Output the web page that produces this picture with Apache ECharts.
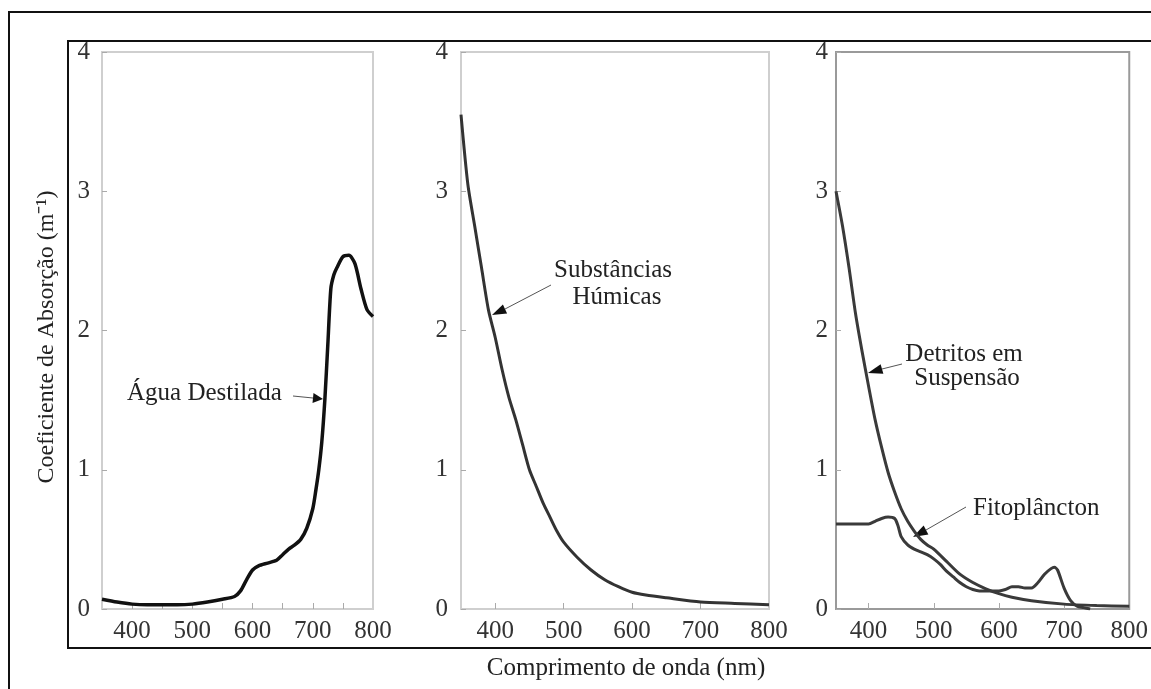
<!DOCTYPE html>
<html><head><meta charset="utf-8">
<script src="https://cdn.jsdelivr.net/npm/echarts@6/dist/echarts.min.js"></script>
<style>html,body{margin:0;padding:0;background:#fff}#c{width:1151px;height:689px}</style>
</head><body><div id="c"></div>
<script>
// ---- data ----
const yTickValues = [0, 1, 2, 3, 4];
const xLabelValues = [400, 500, 600, 700, 800];
const xTicksPanel1 = [400, 450, 500, 550, 600, 650, 700, 750];
const xTicksPanel23 = [400, 500, 600, 700];

const wlAgua = [350,375,400,425,450,475,500,525,550,570,580,590,600,610,625,640,650,660,670,680,690,700,705,710,715,720,725,730,735,740,750,760,770,780,790,800];
const absAgua = [0.07,0.05,0.035,0.03,0.03,0.03,0.035,0.05,0.07,0.09,0.13,0.21,0.28,0.31,0.33,0.35,0.39,0.43,0.46,0.50,0.58,0.72,0.85,1.0,1.2,1.5,1.9,2.3,2.4,2.45,2.53,2.54,2.48,2.3,2.15,2.1];

const wlHumicas = [350,360,370,380,390,400,410,420,430,440,450,460,470,480,490,500,520,540,560,580,600,620,650,700,750,800];
const absHumicas = [3.55,3.05,2.75,2.45,2.15,1.95,1.72,1.52,1.36,1.18,1.0,0.88,0.76,0.66,0.56,0.48,0.37,0.28,0.21,0.16,0.12,0.10,0.08,0.05,0.04,0.03];

const wlDetritos = [350,360,370,380,390,400,410,420,430,440,450,460,470,480,490,500,520,540,560,580,600,620,650,700,750,800];
const absDetritos = [3.0,2.75,2.45,2.12,1.85,1.6,1.36,1.16,0.98,0.84,0.72,0.63,0.56,0.5,0.46,0.43,0.34,0.25,0.19,0.145,0.11,0.085,0.06,0.035,0.025,0.02];

const wlFito = [350,370,390,400,410,420,430,440,445,450,460,470,480,490,500,510,520,530,540,550,560,570,580,590,600,610,620,630,640,650,660,670,680,685,690,700,710,720,730,740];
const absFito = [0.61,0.61,0.61,0.61,0.63,0.65,0.66,0.65,0.6,0.52,0.46,0.43,0.41,0.39,0.36,0.32,0.27,0.23,0.19,0.16,0.14,0.13,0.13,0.13,0.13,0.14,0.16,0.16,0.15,0.15,0.19,0.25,0.29,0.3,0.28,0.15,0.06,0.02,0.01,0.0];

const labelAgua = 'Água Destilada';
const labelHumicas = ['Substâncias', 'Húmicas'];
const labelDetritos = ['Detritos em', 'Suspensão'];
const labelFito = 'Fitoplâncton';
const xTitle = 'Comprimento de onda (nm)';
const yTitle = 'Coeficiente de Absorção (m⁻¹)';

// ---- chart ----
const FONT = 'Liberation Serif';
const pair = (xs, ys) => xs.map((x, i) => [x, ys[i]]);
const chart = echarts.init(document.getElementById('c'));

const grids = [
  {left: 102, top: 52, width: 271, height: 557, borderColor: '#cfcfcf'},
  {left: 461, top: 52, width: 308, height: 557, borderColor: '#cfcfcf'},
  {left: 836, top: 52, width: 307, height: 557, borderColor: '#9a9a9a'}
].map(g => ({left: g.left, top: g.top, width: g.width, height: g.height, show: true,
  borderColor: g.borderColor, borderWidth: 2, backgroundColor: '#fff'}));

function xAxis(i, ticks) {
  return {type: 'value', gridIndex: i, min: 350, max: 800,
    axisLine: {show: false}, splitLine: {show: false},
    axisTick: {show: true, inside: true, length: 6, customValues: ticks, lineStyle: {color: '#aaa', width: 1}},
    axisLabel: {customValues: xLabelValues, margin: 10, fontFamily: FONT, fontSize: 25, color: '#333'}};
}
function yAxis(i, margin) {
  return {type: 'value', gridIndex: i, min: 0, max: 4, interval: 1,
    axisLine: {show: false}, splitLine: {show: false},
    axisTick: {show: true, inside: true, length: 5, lineStyle: {color: '#aaa', width: 1}},
    axisLabel: {margin: margin, fontFamily: FONT, fontSize: 25, color: '#333'}};
}
function line(i, data, color, width) {
  return {type: 'line', xAxisIndex: i, yAxisIndex: i, data: data, showSymbol: false, smooth: 0.25,
    lineStyle: {color: color, width: width}, animation: false, silent: true};
}

function txt(x, y, s, align) {
  return {type: 'text', x: x, y: y, style: {text: s, fontFamily: FONT, fontSize: 25, fill: '#222',
    textAlign: align || 'left', textVerticalAlign: 'middle'}};
}
function arrow(x1, y1, x2, y2, hx, hy) {
  // thin line from (x1,y1) to head base, filled triangle tip at (hx,hy)
  const dx = hx - x2, dy = hy - y2, L = Math.hypot(dx, dy), nx = -dy / L * 5, ny = dx / L * 5;
  return [
    {type: 'line', shape: {x1: x1, y1: y1, x2: x2, y2: y2}, style: {stroke: '#555', lineWidth: 1}},
    {type: 'polygon', shape: {points: [[hx, hy], [x2 + nx, y2 + ny], [x2 - nx, y2 - ny]]}, style: {fill: '#111'}}
  ];
}

const graphics = [
  {type: 'rect', shape: {x: 9, y: 12, width: 1170, height: 700}, style: {fill: 'none', stroke: '#111', lineWidth: 2}, z: 10},
  {type: 'rect', shape: {x: 68, y: 41, width: 1110, height: 607}, style: {fill: 'none', stroke: '#111', lineWidth: 2}, z: 10},
  txt(127, 393, labelAgua),
  ...arrow(293, 396, 313, 398, 323, 399),
  txt(613, 270, labelHumicas[0], 'center'),
  txt(617, 297, labelHumicas[1], 'center'),
  ...arrow(551, 285, 505, 309, 492, 315),
  txt(964, 354, labelDetritos[0], 'center'),
  txt(967, 378, labelDetritos[1], 'center'),
  ...arrow(902, 364, 882, 369, 868, 373),
  txt(973, 508, labelFito),
  ...arrow(966, 507, 926, 530, 913, 537),
  txt(626, 668, xTitle, 'center'),
  {type: 'text', x: 47, y: 337, rotation: Math.PI / 2,
    style: {text: yTitle, fontFamily: FONT, fontSize: 24, fill: '#222', textAlign: 'center', textVerticalAlign: 'middle'}}
];

chart.setOption({
  backgroundColor: '#fff',
  animation: false,
  grid: grids,
  xAxis: [xAxis(0, xTicksPanel1), xAxis(1, xTicksPanel23), xAxis(2, xTicksPanel23)],
  yAxis: [yAxis(0, 12), yAxis(1, 13), yAxis(2, 8)],
  series: [
    line(0, pair(wlAgua, absAgua), '#111', 3.5),
    line(1, pair(wlHumicas, absHumicas), '#333', 3),
    line(2, pair(wlDetritos, absDetritos), '#3a3a3a', 3),
    line(2, pair(wlFito, absFito), '#3a3a3a', 3)
  ],
  graphic: graphics
});
</script></body></html>
